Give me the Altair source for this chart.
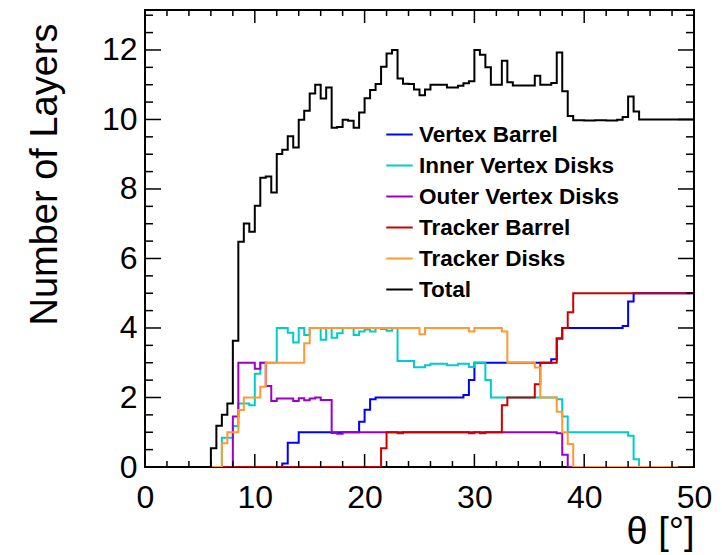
import altair as alt
import pandas as pd

# ---- data: step histograms (bin lower edge where value changes, value) ----
series_names = ["Vertex Barrel", "Inner Vertex Disks", "Outer Vertex Disks",
                "Tracker Barrel", "Tracker Disks", "Total"]
series_colors = ["#0000ff", "#00cccc", "#9900cc", "#cc0000", "#ff9933", "#000000"]

vb_x = [0, 12.5, 13.0, 14.0, 19.5, 20.0, 20.5, 21.0, 29.0, 29.5, 30.0, 37.0, 37.5, 38.0, 43.5, 44.0, 44.5]
vb_y = [0, 0.1, 0.7, 1.0, 1.3, 1.65, 1.95, 2.0, 2.07, 2.5, 3.0, 3.1, 3.7, 4.0, 4.06, 4.76, 5.0]

ivd_x = [0, 7.0, 8.0, 8.5, 9.5, 10.0, 10.5, 12.0, 13.0, 13.5, 14.0, 14.5, 15.0, 16.0, 16.5, 17.0, 17.5,
         18.0, 19.0, 19.5, 20.0, 20.5, 21.0, 21.5, 22.0, 22.5, 23.0, 24.5, 25.5, 26.0, 27.5, 28.5, 29.5,
         30.0, 31.0, 31.5, 37.5, 38.0, 38.5, 44.0, 44.5, 45.0]
ivd_y = [0, 0.84, 1.18, 1.83, 1.78, 2.68, 3.0, 4.0, 3.86, 3.58, 4.0, 3.8, 4.0, 3.66, 4.0, 3.72, 3.85,
         4.0, 3.8, 3.9, 3.96, 3.9, 4.0, 3.97, 3.92, 4.0, 3.05, 2.87, 2.93, 2.97, 2.93, 2.97, 2.88,
         3.0, 2.5, 2.0, 1.95, 1.45, 1.0, 0.9, 0.22, 0]

ovd_x = [0, 8.0, 8.5, 10.0, 10.5, 11.0, 11.5, 12.0, 13.5, 14.0, 14.5, 15.0, 15.5, 16.0, 17.0, 17.5,
         18.0, 23.0, 23.5, 29.5, 30.0, 30.5, 31.0, 37.5, 38.0, 38.5]
ovd_y = [0, 1.45, 3.0, 2.83, 3.0, 2.33, 1.9, 1.97, 1.9, 1.98, 1.92, 1.97, 2.0, 1.93, 0.98, 0.96,
         1.0, 0.97, 1.0, 0.97, 1.0, 0.97, 1.0, 0.97, 0.35, 0]

tb_x = [0, 21.5, 22.0, 32.5, 33.0, 35.5, 36.0, 37.5, 38.0, 38.5, 39.0]
tb_y = [0, 0.54, 1.0, 1.78, 2.0, 2.38, 3.0, 3.7, 4.0, 4.45, 5.0]

td_x = [0, 7.0, 7.5, 8.5, 9.0, 10.5, 11.0, 14.5, 15.0, 25.0, 25.5, 29.5, 30.0, 32.5, 33.0, 35.5,
        36.0, 37.5, 38.0, 38.5, 39.0]
td_y = [0, 0.68, 1.0, 1.64, 2.0, 2.31, 3.0, 3.56, 4.0, 3.82, 4.0, 3.9, 4.0, 3.9, 3.0, 2.86,
        2.0, 1.59, 1.0, 0.66, 0]

tot_x = [0, 6.0, 6.5, 7.0, 7.5, 8.0, 8.5, 9.0, 9.5, 10.0, 10.5, 11.0, 11.5, 12.0, 12.5, 13.0, 13.5,
         14.0, 14.5, 15.0, 15.5, 16.0, 16.5, 17.0, 17.5, 18.0, 18.5, 19.0, 19.5, 20.0, 20.5, 21.0,
         21.5, 22.0, 22.5, 23.0, 23.5, 24.0, 24.5, 25.0, 25.5, 26.0, 27.5, 28.5, 29.0, 29.5, 30.0,
         30.5, 31.0, 31.5, 32.5, 33.0, 33.5, 35.5, 36.0, 37.0, 37.5, 38.0, 38.5, 39.0, 40.0, 41.0,
         42.0, 43.0, 43.5, 44.0, 44.5, 45.0]
tot_y = [0, 0.54, 1.19, 1.50, 1.83, 3.63, 6.48, 7.01, 6.77, 7.52, 8.32, 8.36, 7.90, 9.01, 9.13, 9.52, 9.19,
         9.99, 10.25, 10.75, 11.0, 10.60, 10.92, 9.76, 9.78, 9.99, 9.96, 9.76, 10.2, 10.61, 10.85, 11.02,
         11.52, 11.9, 12.0, 11.18, 11.03, 11.02, 10.86, 10.70, 10.86, 11.0, 10.92, 10.97, 11.04, 11.1, 12.0,
         11.86, 11.5, 11.0, 11.69, 11.07, 10.98, 11.26, 11.0, 11.05, 11.93, 10.81, 10.1, 9.98, 9.97, 9.98,
         9.97, 9.99, 10.07, 10.66, 10.23, 10.0]

x_end = 50.0
y_top = 13.15

y_major = [0, 2, 4, 6, 8, 10, 12]
y_minor = [0.5, 1, 1.5, 2.5, 3, 3.5, 4.5, 5, 5.5, 6.5, 7, 7.5, 8.5, 9, 9.5, 10.5, 11, 11.5, 12.5, 13]
x_major = [0, 10, 20, 30, 40, 50]
x_minor = [2, 4, 6, 8, 12, 14, 16, 18, 22, 24, 26, 28, 32, 34, 36, 38, 42, 44, 46, 48]

# ---- build tables ----
rows = []
for name, xs, ys in zip(series_names,
                        [vb_x, ivd_x, ovd_x, tb_x, td_x, tot_x],
                        [vb_y, ivd_y, ovd_y, tb_y, td_y, tot_y]):
    for xv, yv in zip(xs, ys):
        rows.append({"theta": xv, "layers": yv, "series": name})
    rows.append({"theta": x_end, "layers": ys[-1], "series": name})
df = pd.DataFrame(rows)

W, H = 549, 457
FONT = "Liberation Sans"

xscale = alt.Scale(domain=[0, x_end], nice=False, zero=False)
yscale = alt.Scale(domain=[0, y_top], nice=False, zero=False)
cscale = alt.Scale(domain=series_names, range=series_colors)

legend = alt.Legend(orient="none", legendX=240, legendY=110, title=None,
                    symbolType="stroke", symbolSize=700, symbolStrokeWidth=2,
                    labelFont=FONT, labelFontSize=22.5, labelFontWeight="bold",
                    labelColor="black", labelOffset=5, rowPadding=5, padding=0,
                    labelLimit=1000)

xaxis = alt.Axis(values=x_major, ticks=False, tickSize=0, domain=False, grid=False,
                 labelFont=FONT, labelFontSize=32, labelColor="black", labelPadding=15,
                 labelFlush=False, labelOverlap=False,
                 title="θ [°]", titleFont=FONT, titleFontSize=38, titleFontWeight="normal",
                 titleColor="black", titleAlign="right", titleAnchor="end",
                 titleX=W, titleY=76, titleBaseline="alphabetic")
yaxis = alt.Axis(values=y_major, ticks=False, tickSize=0, domain=False, grid=False,
                 labelFont=FONT, labelFontSize=32, labelColor="black", labelPadding=8,
                 labelFlush=False, labelOverlap=False,
                 title="Number of Layers", titleFont=FONT, titleFontSize=38,
                 titleFontWeight="normal", titleColor="black", titleAngle=270,
                 titleAlign="center", titleX=-89, titleY=164, titleBaseline="alphabetic")

layers = []
for i, name in enumerate(series_names):
    enc = dict(
        x=alt.X("theta:Q", scale=xscale, axis=xaxis),
        y=alt.Y("layers:Q", scale=yscale, axis=yaxis),
        color=alt.Color("series:N", scale=cscale, legend=legend),
    )
    layers.append(
        alt.Chart(df).transform_filter(alt.datum.series == name)
        .mark_line(interpolate="step-after", strokeWidth=2, clip=True)
        .encode(**enc)
    )

ymaj = pd.DataFrame({"v": y_major})
ymin = pd.DataFrame({"v": y_minor})
xmaj = pd.DataFrame({"v": x_major})
xmin = pd.DataFrame({"v": x_minor})

def yticks(d, length):
    left = alt.Chart(d).mark_rule(color="black", strokeWidth=1.5).encode(
        y=alt.Y("v:Q", scale=yscale, axis=yaxis), x=alt.value(0), x2=alt.value(length))
    right = alt.Chart(d).mark_rule(color="black", strokeWidth=1.5).encode(
        y=alt.Y("v:Q", scale=yscale, axis=yaxis), x=alt.value(W), x2=alt.value(W - length))
    return [left, right]

def xticks(d, length):
    bottom = alt.Chart(d).mark_rule(color="black", strokeWidth=1.5).encode(
        x=alt.X("v:Q", scale=xscale, axis=xaxis), y=alt.value(H), y2=alt.value(H - length))
    top = alt.Chart(d).mark_rule(color="black", strokeWidth=1.5).encode(
        x=alt.X("v:Q", scale=xscale, axis=xaxis), y=alt.value(0), y2=alt.value(length))
    return [bottom, top]

tick_layers = yticks(ymaj, 16) + yticks(ymin, 8) + xticks(xmaj, 13) + xticks(xmin, 6)

chart = alt.layer(*layers, *tick_layers).properties(
    width=W, height=H,
    padding={"left": 137, "top": 2, "right": 20, "bottom": 88},
    autosize=alt.AutoSizeParams(type="none"),
    background="white",
).configure_view(stroke="black", strokeWidth=2)

chart.save("out.html", embed_options={"renderer": "svg", "actions": False})
